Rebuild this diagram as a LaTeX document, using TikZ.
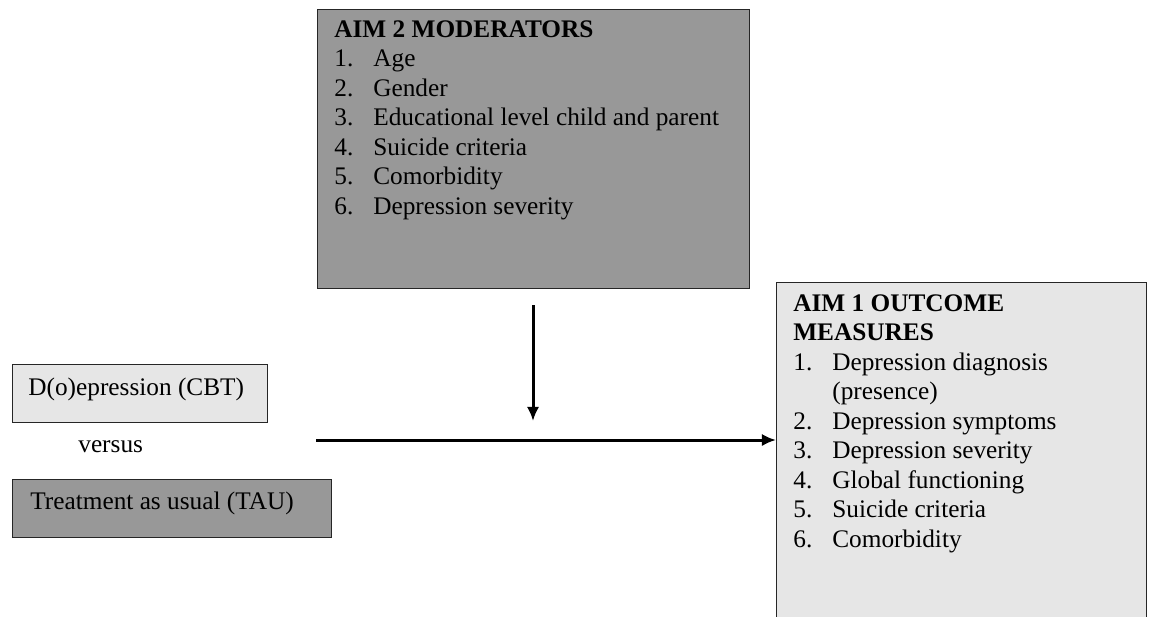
\documentclass[tikz,border=0pt]{standalone}
\usepackage{fontspec}
\setmainfont{Liberation Serif}
\usetikzlibrary{arrows.meta}
\definecolor{darkfill}{HTML}{989898}
\definecolor{lightfill}{HTML}{E6E6E6}
\tikzset{
  box/.style={draw=black!85, line width=0.6pt, anchor=north west, inner sep=0pt},
  list/.style={anchor=north west, inner sep=0pt, align=left, font=\fontsize{14.4}{16.8}\selectfont},
  label/.style={anchor=base west, inner sep=0pt, font=\fontsize{14.4}{16.8}\selectfont},
  link/.style={-{Latex[length=8pt,width=7pt]}, line width=1.7pt}
}
\newcommand{\itm}[2]{\makebox[0.78cm][l]{#1}#2}

\begin{document}
\begin{tikzpicture}[x=0.02cm,y=-0.02cm]
\useasboundingbox (0,0) rectangle (1149,616);
\node[box, fill=darkfill, minimum width=8.64cm, minimum height=5.58cm] (mods) at (317,9) {};
\node[list] (modlist) at (334,20) {\textbf{AIM 2 MODERATORS}\\
\itm{1.}{Age}\\
\itm{2.}{Gender}\\
\itm{3.}{Educational level child and parent}\\
\itm{4.}{Suicide criteria}\\
\itm{5.}{Comorbidity}\\
\itm{6.}{Depression severity}};
\node[box, fill=lightfill, minimum width=7.4cm, minimum height=6.7cm] (outc) at (776,282) {};
\node[list] (outlist) at (793,294) {\textbf{AIM 1 OUTCOME}\\
\textbf{MEASURES}\\
\itm{1.}{Depression diagnosis}\\
\itm{}{(presence)}\\
\itm{2.}{Depression symptoms}\\
\itm{3.}{Depression severity}\\
\itm{4.}{Global functioning}\\
\itm{5.}{Suicide criteria}\\
\itm{6.}{Comorbidity}};
\node[box, fill=lightfill, minimum width=5.1cm, minimum height=1.16cm] (cbt) at (12,364) {};
\node[label] (cbttxt) at (28,395) {D(o)epression (CBT)};
\node[label] (versus) at (78,452) {versus};
\node[box, fill=darkfill, minimum width=6.38cm, minimum height=1.16cm] (tau) at (12,479) {};
\node[label] (tautxt) at (30,509) {Treatment as usual (TAU)};
\coordinate (modstart) at (533,305);
\coordinate (modend) at (533,421);
\coordinate (armstart) at (316,440);
\draw[link] (modstart) -- (modend);
\draw[link] (armstart) -- (armstart -| outc.west);
\end{tikzpicture}
\end{document}
